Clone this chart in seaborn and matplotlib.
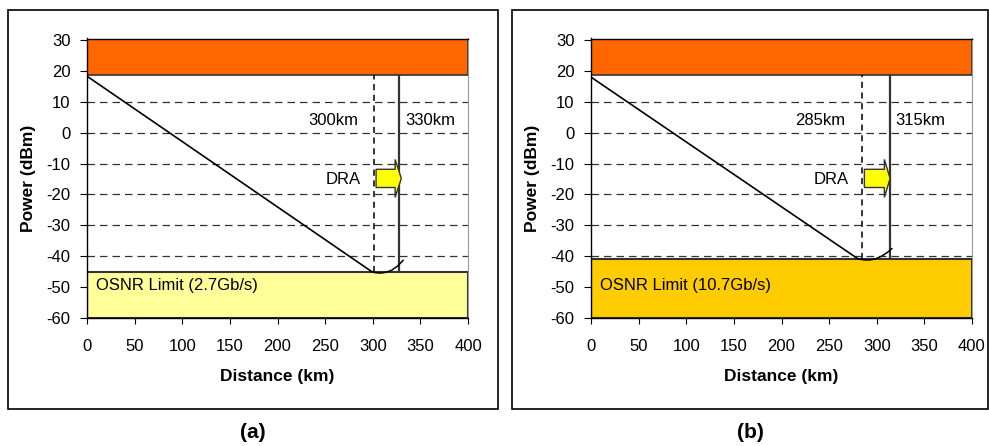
import numpy as np
import pandas as pd
import matplotlib.pyplot as plt
import seaborn as sns
from matplotlib.patches import Rectangle, FancyArrow

sns.set_style('ticks')
plt.rcParams['font.family'] = ['Liberation Sans', 'DejaVu Sans']
plt.rcParams['axes.unicode_minus'] = False
plt.rcParams['text.color'] = 'black'
plt.rcParams['axes.labelcolor'] = 'black'
plt.rcParams['xtick.color'] = 'black'
plt.rcParams['ytick.color'] = 'black'

# panel data (a) 2.7Gb/s and (b) 10.7Gb/s
panel_tags = ['(a)', '(b)']
osnr_text = ['OSNR Limit (2.7Gb/s)', 'OSNR Limit (10.7Gb/s)']
osnr_level = [-45.0, -41.0]
osnr_color = ['#FFFF99', '#FFCC00']
launch_power = [18.3, 18.0]
reach_plain = [299, 281]          # km where fibre loss meets OSNR limit
reach_label = ['300km', '285km']
reach_dra = [328, 314]
dra_label = ['330km', '315km']
arc_x = [[299, 303, 308, 314, 320, 326, 332],
         [281, 287, 293, 299, 305, 311, 316]]
arc_y = [[-45.0, -45.35, -45.45, -45.2, -44.5, -43.2, -41.3],
         [-40.9, -41.2, -41.2, -40.8, -40.0, -38.8, -37.5]]
dra_start = [303.5, 287]
dra_end = [330, 314]
dra_head_base = [323.5, 308]
saturation = [18.8, 30.5]

x_ticks = list(range(0, 401, 50))
y_ticks = list(range(-60, 31, 10))

W, H = 989, 446
fig = plt.figure(figsize=(W / 100, H / 100), dpi=100)

axes_px = [(87, 468), (591, 972)]
frame_px = [(8, 498), (512, 988)]
top_px, bot_px = 38.5, 318

for i in range(2):
    l, r = axes_px[i]
    fl, fr = frame_px[i]
    ax = fig.add_axes([l / W, 1 - bot_px / H, (r - l) / W, (bot_px - top_px) / H])
    ax.set_xlim(0, 400)
    ax.set_ylim(-60, 30.5)
    ax.set_xticks(x_ticks)
    ax.set_yticks(y_ticks)
    ax.set_axisbelow(True)
    ax.yaxis.grid(True, linestyle=(0, (6, 4)), color='#333333', linewidth=0.9)

    # bands
    ax.axhspan(saturation[0], saturation[1], facecolor='#FF6600', edgecolor='#333333', lw=1.2, zorder=1)
    ax.axhspan(-60, osnr_level[i], facecolor=osnr_color[i], edgecolor='#333333', lw=1.5, zorder=1)

    # fibre power decay
    df = pd.DataFrame({'km': [0, reach_plain[i]], 'dBm': [launch_power[i], osnr_level[i]]})
    sns.lineplot(data=df, x='km', y='dBm', ax=ax, color='black', lw=1.2, zorder=3)
    arc = pd.DataFrame({'km': arc_x[i], 'dBm': arc_y[i]})
    sns.lineplot(data=arc, x='km', y='dBm', ax=ax, color='black', lw=1.1, zorder=3, sort=False)

    ax.vlines(reach_plain[i] + (2 if i == 0 else 3), osnr_level[i], saturation[0],
              colors='black', linestyles=(0, (4, 3)), lw=1.1, zorder=2)
    ax.vlines(reach_dra[i], osnr_level[i], saturation[0], colors='#333333', lw=1.6, zorder=2)

    y_mid = -14.8
    ax.add_patch(FancyArrow(dra_start[i], y_mid, dra_end[i] - dra_start[i], 0,
                            width=5.9, head_width=12.3,
                            head_length=dra_end[i] - dra_head_base[i],
                            length_includes_head=True, facecolor='#FFFF00',
                            edgecolor='#333333', lw=1.0, zorder=4))

    ax.text(reach_plain[i] - 14, 4, reach_label[i], ha='right', va='center', fontsize=12, zorder=5)
    ax.text(reach_dra[i] + 6, 4, dra_label[i], ha='left', va='center', fontsize=12, zorder=5)
    ax.text(dra_start[i] - 16, -15, 'DRA', ha='right', va='center', fontsize=12, zorder=5)
    ax.text(9, -49.6, osnr_text[i], ha='left', va='center', fontsize=12, zorder=5)

    ax.set_xlabel('Distance (km)', fontsize=12.5, fontweight='bold')
    ax.set_ylabel('Power (dBm)', fontsize=12.5, fontweight='bold')
    ax.xaxis.set_label_coords(0.5, -(369 - bot_px) / (bot_px - top_px))
    ax.yaxis.set_label_coords((fl + 28 - l) / (r - l), 0.5)

    ax.tick_params(axis='x', length=4, pad=11, labelsize=12, color='black')
    ax.tick_params(axis='y', length=5, pad=7, labelsize=12, color='black')
    for s in ['left', 'bottom', 'top']:
        ax.spines[s].set_color('black')
        ax.spines[s].set_linewidth(1.0)
    ax.spines['right'].set_color('#999999')

    fig.add_artist(Rectangle((fl / W, 1 - 409 / H), (fr - fl) / W, 399 / H,
                             transform=fig.transFigure, fill=False,
                             edgecolor='black', lw=1.2))
    fig.text((fl + fr) / 2 / W, 1 - 433 / H, panel_tags[i], ha='center', va='center',
             fontsize=15, fontweight='bold')

fig.savefig('out.png', dpi=100)
